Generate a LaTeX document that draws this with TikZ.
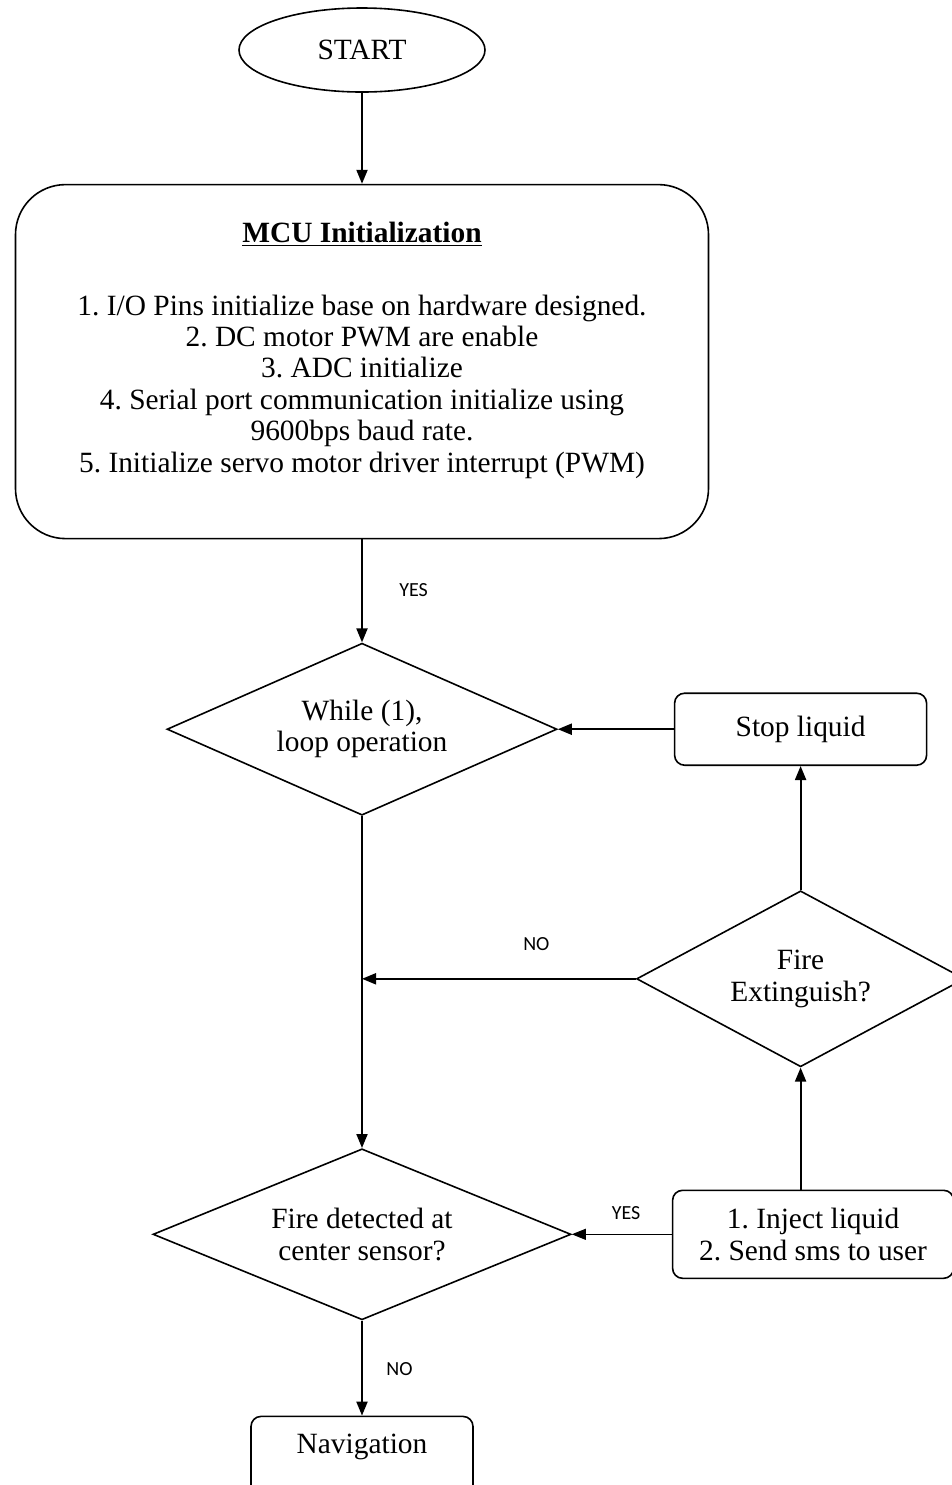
\documentclass[tikz,border=0pt]{standalone}
\usepackage{fontspec}
\setmainfont{Liberation Serif}
\newfontfamily\labelfont{Carlito}
\usetikzlibrary{arrows.meta, positioning, shapes}
\newcommand{\boxheight}{36pt}
\newcommand{\cornerradius}{5pt}
\tikzstyle{terminal} = [% the start of the program
  ellipse,
  minimum width=123pt,
  minimum height=42pt,
  text centered,
  draw=black,
  thick
  ]
\tikzstyle{setup} = [% big block with the initialization steps
  rectangle,
  rounded corners=25pt,
  minimum width=346.5pt,
  minimum height=177pt,
  align=center,
  draw=black,
  thick
  ]
\tikzstyle{process} = [% small actions
  rectangle,
  rounded corners=\cornerradius,
  minimum height=\boxheight,
  align=center,
  draw=black,
  thick
  ]
\tikzstyle{decision} = [% questions and the main loop
  diamond,
  inner sep=0pt,
  align=center,
  draw=black,
  thick
  ]
\tikzstyle{answer} = [% yes / no labels
  font=\labelfont\fontsize{10}{12}\selectfont,
  inner sep=1pt
  ]
\tikzstyle{arrow} = [% arrow format
  line width=1pt,
  ->,
  >={Triangle[length=7pt,width=5.5pt]}
  ]

\begin{document}
\begin{tikzpicture}[font=\fontsize{14.7}{15.7}\selectfont\frenchspacing]
\useasboundingbox (0,0) rectangle (476pt,-742.5pt);

%%% Nodes
\node[terminal] (start) at (181pt,-25pt) {START};
\node[setup] (mcu) [below=45.5pt of start]
  {\underline{\textbf{MCU Initialization}}\\[20.8pt]
   1. I/O Pins initialize base on hardware designed.\\
   2. DC motor PWM are enable\\
   3. ADC initialize\\
   4. Serial port communication initialize using\\
   9600bps baud rate.\\
   5. Initialize servo motor driver interrupt (PWM)\\[-1pt]\mbox{}};

\node[decision, shape aspect=2.27, minimum width=195pt, minimum height=86pt] (loop) [below=51.5pt of mcu]
  {While (1),\\loop operation};
\node[process, minimum width=126pt] (stop) [right=58pt of loop] {Stop liquid};
\node[decision, shape aspect=1.86, minimum width=164pt, minimum height=88pt] (extinguish) [below=62pt of stop]
  {Fire\\Extinguish?};

\node[decision, shape aspect=2.44, minimum width=209pt, minimum height=85.5pt] (detect) [below=166pt of loop]
  {Fire detected at\\center sensor?};
\node[process, minimum width=140.5pt, minimum height=44pt] (inject) [right=50pt of detect]
  {1. Inject liquid\\2. Send sms to user};
\node[process, minimum width=111pt, text height=15pt, text depth=40pt] (nav) [below=47.5pt of detect]
  {Navigation};

\node[answer] (yes) [below right=21pt and 17.5pt of mcu.south] {YES};
\node[answer] (no) [above left=13pt and 42pt of extinguish.west] {NO};
\node[answer] (yesinject) [above left=6pt and 14.5pt of inject.west] {YES};
\node[answer] (nonav) [below right=20pt and 11pt of detect.south] {NO};

%%% Arrows
\draw[arrow] (start) -- (mcu);
\draw[arrow] (mcu) -- (loop);
\draw[arrow] (stop) -- (loop);
\draw[arrow] (loop) -- (detect);
\draw[arrow] (extinguish) -- (stop);
\draw[arrow] (extinguish.west) -- (extinguish.west -| loop.south);
\draw[arrow] (extinguish.south |- inject.north) -- (extinguish.south);
\draw[arrow, line width=0.5pt] (inject) -- (detect);
\draw[arrow] (detect) -- (nav);

\end{tikzpicture}
\end{document}
